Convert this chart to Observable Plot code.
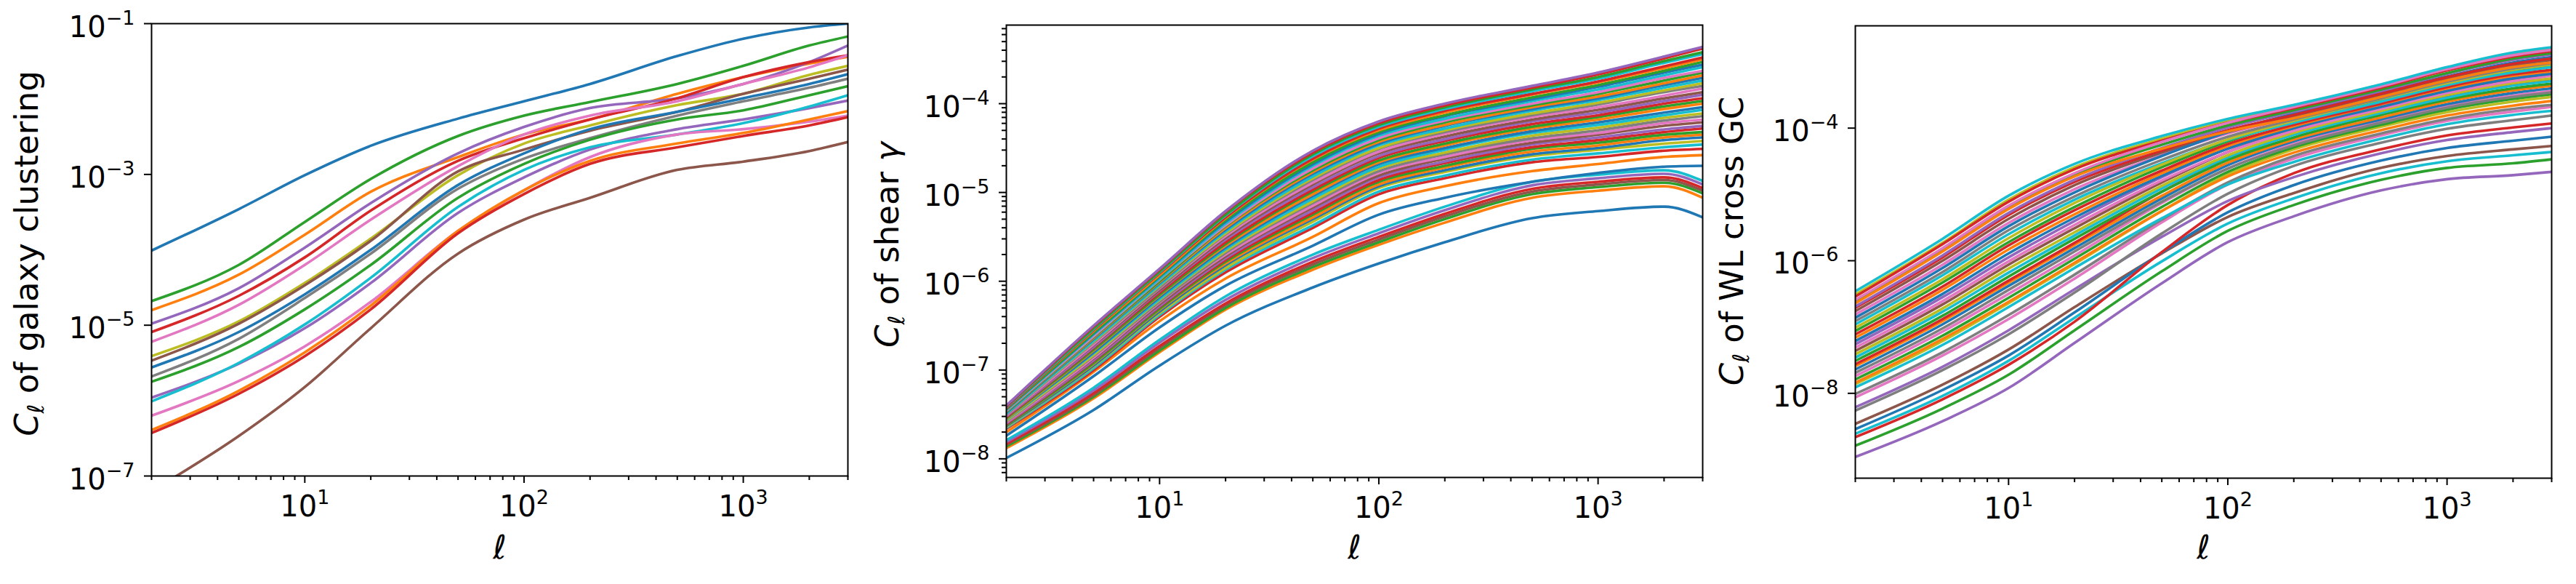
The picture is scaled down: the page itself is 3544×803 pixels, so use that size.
<!DOCTYPE html>
<html><head><meta charset="utf-8">
<script src="https://cdn.jsdelivr.net/npm/d3@7"></script>
<script src="https://cdn.jsdelivr.net/npm/@observablehq/plot@0.6"></script>
<style>
html,body{margin:0;padding:0;background:#fff;}
#wrap{position:relative;width:3544px;height:803px;overflow:hidden;background:#fff;}
#wrap svg{position:absolute;top:0;}
</style></head><body><div id="wrap"></div>
<script>
// multipole sample points (same for every curve)
const ells = [2, 5, 10, 20, 50, 100, 200, 500, 1000, 2000, 3000];
const palette = {blue:"#1f77b4", orange:"#ff7f0e", green:"#2ca02c", red:"#d62728", purple:"#9467bd",
  brown:"#8c564b", pink:"#e377c2", gray:"#7f7f7f", olive:"#bcbd22", cyan:"#17becf"};

// ---------- Panel 1: galaxy clustering, log10(C_l) ----------
const gcColors = ["blue","green","orange","purple","red","pink","olive","brown","blue","gray","green","purple","cyan","pink","orange","red","brown"];
const gcLogCl = [
[-4.01,-3.46,-3.01,-2.62,-2.26,-2.03,-1.80,-1.43,-1.20,-1.05,-1.00],
[-4.68,-4.20,-3.63,-3.06,-2.49,-2.22,-2.04,-1.80,-1.56,-1.29,-1.17],
[-4.80,-4.33,-3.80,-3.23,-2.77,-2.47,-2.27,-1.93,-1.71,-1.53,-1.44],
[-4.98,-4.51,-3.97,-3.38,-2.72,-2.37,-2.12,-1.99,-1.80,-1.51,-1.29],
[-5.09,-4.61,-4.10,-3.48,-2.82,-2.52,-2.27,-1.99,-1.71,-1.51,-1.42],
[-5.22,-4.73,-4.20,-3.60,-2.89,-2.47,-2.22,-2.03,-1.80,-1.58,-1.42],
[-5.41,-4.95,-4.44,-3.85,-3.01,-2.59,-2.35,-2.08,-1.93,-1.68,-1.56],
[-5.47,-4.98,-4.47,-3.88,-2.96,-2.67,-2.42,-2.17,-1.93,-1.73,-1.61],
[-5.56,-5.09,-4.59,-4.00,-3.14,-2.72,-2.40,-2.17,-1.99,-1.80,-1.67],
[-5.68,-5.18,-4.64,-4.05,-3.19,-2.79,-2.52,-2.22,-2.03,-1.85,-1.73],
[-5.75,-5.29,-4.79,-4.20,-3.31,-2.86,-2.54,-2.27,-2.15,-1.95,-1.83],
[-5.96,-5.51,-5.04,-4.44,-3.51,-3.04,-2.67,-2.40,-2.27,-2.12,-2.02],
[-6.01,-5.50,-4.99,-4.37,-3.43,-2.94,-2.64,-2.47,-2.32,-2.10,-1.95],
[-6.20,-5.74,-5.28,-4.69,-3.75,-3.21,-2.77,-2.47,-2.40,-2.30,-2.22],
[-6.39,-5.87,-5.36,-4.74,-3.75,-3.21,-2.82,-2.59,-2.45,-2.27,-2.16],
[-6.43,-5.91,-5.41,-4.79,-3.78,-3.26,-2.86,-2.64,-2.49,-2.35,-2.24],
[-7.20,-6.47,-5.82,-5.04,-4.05,-3.60,-3.31,-2.94,-2.83,-2.69,-2.57]
];

// ---------- Panel 2: shear, log10(C_l) ----------
const shearColors = [
 "blue",
 "orange","green","brown","red","purple","cyan",
 "blue","orange",
 "red","cyan","olive","blue","orange","green","red","purple","brown","pink","gray","olive","cyan","blue","orange","green",
 "red","purple","brown","pink","gray","olive","cyan","blue","orange","green","pink","cyan","blue","green","orange","red","cyan","green","red","purple"
];
const shearLogCl = [
[-7.99,-7.45,-6.95,-6.50,-6.07,-5.80,-5.56,-5.29,-5.21,-5.16,-5.28],
[-7.88,-7.32,-6.80,-6.32,-5.87,-5.59,-5.34,-5.06,-4.98,-4.93,-5.06],
[-7.86,-7.30,-6.78,-6.30,-5.84,-5.56,-5.30,-5.02,-4.94,-4.89,-5.01],
[-7.84,-7.28,-6.75,-6.27,-5.81,-5.53,-5.27,-4.99,-4.91,-4.86,-4.98],
[-7.83,-7.26,-6.73,-6.25,-5.78,-5.50,-5.24,-4.96,-4.88,-4.83,-4.95],
[-7.81,-7.23,-6.69,-6.21,-5.74,-5.46,-5.20,-4.92,-4.84,-4.79,-4.91],
[-7.79,-7.20,-6.66,-6.17,-5.70,-5.42,-5.16,-4.88,-4.80,-4.75,-4.87],
[-7.74,-7.07,-6.52,-6.05,-5.60,-5.25,-5.06,-4.88,-4.78,-4.71,-4.70],
[-7.70,-7.02,-6.45,-5.97,-5.50,-5.12,-4.93,-4.76,-4.68,-4.60,-4.58],
[-7.66,-7.00,-6.40,-5.90,-5.40,-5.02,-4.84,-4.66,-4.60,-4.53,-4.51],
[-7.65,-6.98,-6.38,-5.87,-5.37,-4.99,-4.81,-4.63,-4.56,-4.49,-4.46],
[-7.64,-6.96,-6.36,-5.85,-5.33,-4.95,-4.77,-4.59,-4.52,-4.45,-4.42],
[-7.63,-6.95,-6.34,-5.82,-5.30,-4.93,-4.75,-4.57,-4.50,-4.41,-4.38],
[-7.62,-6.93,-6.32,-5.80,-5.28,-4.91,-4.72,-4.54,-4.47,-4.38,-4.35],
[-7.62,-6.92,-6.31,-5.78,-5.25,-4.88,-4.70,-4.51,-4.44,-4.35,-4.32],
[-7.61,-6.90,-6.29,-5.76,-5.23,-4.86,-4.67,-4.49,-4.41,-4.32,-4.28],
[-7.60,-6.89,-6.28,-5.74,-5.20,-4.83,-4.65,-4.46,-4.38,-4.29,-4.25],
[-7.59,-6.87,-6.26,-5.72,-5.17,-4.81,-4.62,-4.44,-4.35,-4.25,-4.21],
[-7.59,-6.86,-6.24,-5.70,-5.15,-4.78,-4.60,-4.41,-4.33,-4.22,-4.18],
[-7.58,-6.84,-6.23,-5.68,-5.12,-4.76,-4.57,-4.39,-4.30,-4.19,-4.14],
[-7.57,-6.83,-6.21,-5.66,-5.10,-4.73,-4.55,-4.36,-4.27,-4.16,-4.11],
[-7.56,-6.81,-6.20,-5.64,-5.07,-4.71,-4.52,-4.33,-4.24,-4.13,-4.07],
[-7.55,-6.80,-6.18,-5.62,-5.04,-4.68,-4.50,-4.31,-4.21,-4.10,-4.04],
[-7.55,-6.78,-6.16,-5.60,-5.02,-4.66,-4.47,-4.28,-4.18,-4.06,-4.00],
[-7.54,-6.77,-6.15,-5.58,-4.99,-4.64,-4.45,-4.26,-4.15,-4.03,-3.97],
[-7.53,-6.75,-6.13,-5.56,-4.97,-4.61,-4.42,-4.23,-4.13,-4.00,-3.94],
[-7.52,-6.74,-6.11,-5.53,-4.94,-4.59,-4.40,-4.20,-4.10,-3.97,-3.90],
[-7.51,-6.72,-6.10,-5.51,-4.91,-4.56,-4.37,-4.18,-4.07,-3.94,-3.87],
[-7.51,-6.71,-6.08,-5.49,-4.89,-4.54,-4.34,-4.15,-4.04,-3.91,-3.83],
[-7.50,-6.69,-6.07,-5.47,-4.86,-4.51,-4.32,-4.13,-4.01,-3.87,-3.80],
[-7.49,-6.68,-6.05,-5.46,-4.84,-4.50,-4.30,-4.11,-3.99,-3.85,-3.77],
[-7.49,-6.67,-6.04,-5.44,-4.82,-4.47,-4.28,-4.08,-3.96,-3.82,-3.74],
[-7.48,-6.65,-6.02,-5.42,-4.79,-4.45,-4.25,-4.06,-3.94,-3.79,-3.71],
[-7.47,-6.64,-6.01,-5.40,-4.77,-4.43,-4.24,-4.04,-3.92,-3.77,-3.68],
[-7.47,-6.63,-6.00,-5.38,-4.75,-4.41,-4.21,-4.02,-3.89,-3.74,-3.65],
[-7.46,-6.62,-5.98,-5.37,-4.73,-4.39,-4.19,-4.00,-3.87,-3.71,-3.63],
[-7.45,-6.60,-5.97,-5.35,-4.70,-4.36,-4.17,-3.97,-3.84,-3.68,-3.59],
[-7.44,-6.59,-5.95,-5.33,-4.68,-4.34,-4.14,-3.95,-3.81,-3.65,-3.56],
[-7.44,-6.58,-5.94,-5.31,-4.66,-4.32,-4.13,-3.93,-3.79,-3.63,-3.53],
[-7.43,-6.56,-5.93,-5.29,-4.63,-4.30,-4.10,-3.90,-3.76,-3.60,-3.50],
[-7.43,-6.55,-5.91,-5.28,-4.62,-4.28,-4.08,-3.89,-3.75,-3.58,-3.48],
[-7.42,-6.54,-5.90,-5.26,-4.59,-4.26,-4.06,-3.86,-3.72,-3.54,-3.44],
[-7.41,-6.53,-5.89,-5.25,-4.57,-4.24,-4.04,-3.84,-3.70,-3.52,-3.42],
[-7.41,-6.51,-5.87,-5.22,-4.55,-4.22,-4.02,-3.82,-3.67,-3.49,-3.38],
[-7.40,-6.50,-5.86,-5.21,-4.53,-4.20,-4.00,-3.80,-3.65,-3.47,-3.36]
];

// ---------- Panel 3: WL x GC, log10(C_l) ----------
const crossColors = [
 "purple","green","cyan","brown","blue","red","purple","gray","pink","gray","olive","cyan","orange","green","pink",
 "gray","blue","orange","red","green","cyan","olive","brown","pink","purple","blue","orange","red","green","cyan",
 "olive","gray","pink","brown","blue","red","purple","green","orange","olive","red","pink","cyan"
];
const crossLogCl = [
[-8.96,-8.42,-7.92,-7.24,-6.34,-5.72,-5.33,-4.94,-4.77,-4.71,-4.66],
[-8.79,-8.23,-7.72,-7.05,-6.16,-5.55,-5.16,-4.78,-4.60,-4.53,-4.47],
[-8.61,-8.04,-7.51,-6.86,-6.01,-5.44,-5.06,-4.68,-4.50,-4.41,-4.36],
[-8.46,-7.87,-7.34,-6.70,-5.89,-5.34,-4.98,-4.60,-4.42,-4.32,-4.27],
[-8.54,-7.95,-7.43,-6.78,-5.88,-5.27,-4.86,-4.49,-4.30,-4.19,-4.13],
[-8.66,-8.09,-7.57,-6.92,-5.87,-5.16,-4.68,-4.32,-4.11,-3.99,-3.93],
[-8.21,-7.60,-7.05,-6.43,-5.64,-5.10,-4.74,-4.38,-4.18,-4.06,-4.00],
[-8.26,-7.65,-7.11,-6.48,-5.59,-4.99,-4.57,-4.22,-4.01,-3.88,-3.81],
[-8.06,-7.43,-6.88,-6.27,-5.42,-4.85,-4.46,-4.11,-3.89,-3.75,-3.68],
[-8.01,-7.38,-6.82,-6.21,-5.38,-4.82,-4.42,-4.08,-3.86,-3.71,-3.65],
[-7.86,-7.21,-6.64,-6.05,-5.25,-4.70,-4.32,-3.98,-3.76,-3.60,-3.53],
[-7.91,-7.27,-6.70,-6.11,-5.36,-4.85,-4.51,-4.16,-3.94,-3.80,-3.74],
[-7.84,-7.18,-6.62,-6.03,-5.25,-4.73,-4.37,-4.03,-3.81,-3.66,-3.59],
[-7.79,-7.13,-6.56,-5.97,-5.19,-4.66,-4.29,-3.95,-3.72,-3.56,-3.49],
[-7.74,-7.07,-6.50,-5.92,-5.13,-4.61,-4.24,-3.90,-3.67,-3.51,-3.44],
[-7.69,-7.02,-6.44,-5.86,-5.11,-4.61,-4.26,-3.92,-3.69,-3.53,-3.46],
[-7.64,-6.96,-6.38,-5.81,-5.06,-4.56,-4.20,-3.87,-3.64,-3.47,-3.40],
[-7.59,-6.91,-6.33,-5.76,-5.02,-4.52,-4.17,-3.84,-3.60,-3.43,-3.36],
[-7.56,-6.88,-6.30,-5.73,-4.96,-4.46,-4.09,-3.76,-3.52,-3.34,-3.27],
[-7.51,-6.83,-6.24,-5.67,-4.96,-4.48,-4.14,-3.80,-3.57,-3.40,-3.33],
[-7.46,-6.77,-6.18,-5.62,-4.91,-4.44,-4.10,-3.77,-3.54,-3.36,-3.29],
[-7.41,-6.72,-6.12,-5.57,-4.87,-4.41,-4.07,-3.74,-3.50,-3.32,-3.25],
[-7.36,-6.66,-6.06,-5.51,-4.82,-4.36,-4.02,-3.69,-3.45,-3.27,-3.19],
[-7.31,-6.61,-6.01,-5.46,-4.79,-4.36,-4.04,-3.71,-3.47,-3.29,-3.21],
[-7.26,-6.55,-5.95,-5.40,-4.74,-4.31,-3.99,-3.66,-3.42,-3.23,-3.16],
[-7.21,-6.50,-5.89,-5.35,-4.72,-4.31,-4.00,-3.68,-3.44,-3.25,-3.18],
[-7.16,-6.44,-5.83,-5.30,-4.68,-4.27,-3.97,-3.64,-3.40,-3.21,-3.14],
[-7.11,-6.39,-5.77,-5.24,-4.64,-4.24,-3.95,-3.63,-3.38,-3.19,-3.12],
[-7.06,-6.33,-5.72,-5.19,-4.59,-4.20,-3.90,-3.58,-3.33,-3.14,-3.06],
[-6.96,-6.22,-5.60,-5.08,-4.53,-4.18,-3.92,-3.60,-3.35,-3.16,-3.08],
[-7.01,-6.28,-5.66,-5.13,-4.55,-4.17,-3.89,-3.56,-3.32,-3.12,-3.04],
[-6.91,-6.17,-5.54,-5.03,-4.48,-4.13,-3.87,-3.55,-3.30,-3.10,-3.02],
[-6.81,-6.06,-5.43,-4.92,-4.41,-4.08,-3.84,-3.52,-3.27,-3.06,-2.99],
[-6.76,-6.00,-5.37,-4.86,-4.37,-4.06,-3.82,-3.50,-3.25,-3.05,-2.97],
[-6.86,-6.11,-5.48,-4.97,-4.42,-4.06,-3.78,-3.47,-3.22,-3.01,-2.93],
[-6.71,-5.95,-5.31,-4.81,-4.34,-4.03,-3.80,-3.48,-3.23,-3.03,-2.95],
[-6.69,-5.92,-5.28,-4.78,-4.30,-3.99,-3.75,-3.44,-3.18,-2.97,-2.89],
[-6.61,-5.84,-5.19,-4.70,-4.25,-3.96,-3.73,-3.42,-3.17,-2.95,-2.87],
[-6.64,-5.86,-5.22,-4.73,-4.31,-4.05,-3.85,-3.53,-3.28,-3.08,-3.01],
[-6.51,-5.73,-5.08,-4.59,-4.16,-3.89,-3.67,-3.36,-3.10,-2.88,-2.80],
[-6.54,-5.75,-5.11,-4.62,-4.19,-3.92,-3.70,-3.39,-3.13,-2.92,-2.84],
[-6.59,-5.81,-5.17,-4.68,-4.21,-3.92,-3.68,-3.37,-3.11,-2.90,-2.82],
[-6.46,-5.67,-5.02,-4.54,-4.12,-3.86,-3.65,-3.34,-3.08,-2.86,-2.78]
];

// ---------- axes / tick configuration ----------
const xMajor = [10, 100, 1000];
const xMinor = [2,3,4,5,6,7,8,9,20,30,40,50,60,70,80,90,200,300,400,500,600,700,800,900,2000,3000];
const yTicks1 = [1e-7, 1e-5, 1e-3, 1e-1];
const yTicks2 = [1e-8, 1e-7, 1e-6, 1e-5, 1e-4];
const yTicks3 = [1e-8, 1e-6, 1e-4];
const yMinor2 = [];
for (let e = -9; e <= -4; e++) for (let m = 2; m <= 9; m++) {
  const v = m * Math.pow(10, e);
  if (v > Math.pow(10, -8.21) && v < Math.pow(10, -3.115)) yMinor2.push(v);
}

const fmtPow = d => "10^" + Math.round(Math.log10(d));

function makePanel(o) {
  const marks = [];
  o.logCl.forEach((vals, k) => {
    const rows = ells.map((l, i) => ({l, c: Math.pow(10, vals[i])}));
    marks.push(Plot.line(rows, {x: "l", y: "c", stroke: palette[o.colors[k]], strokeWidth: 3.6,
      curve: "monotone-x", clip: true}));
  });
  marks.push(Plot.axisX(xMinor, {anchor: "bottom", tickSize: 6, strokeWidth: 2, tickFormat: () => "", label: null}));
  marks.push(Plot.axisX(xMajor, {anchor: "bottom", tickSize: 10, tickPadding: 17, strokeWidth: 2, fontSize: 40, tickFormat: fmtPow, label: null}));
  if (o.yMinor) marks.push(Plot.axisY(o.yMinor, {anchor: "left", tickSize: 6, strokeWidth: 2, tickFormat: () => "", label: null}));
  marks.push(Plot.axisY(o.yTicks, {anchor: "left", tickSize: 10, tickPadding: 13, strokeWidth: 2, fontSize: 40, tickFormat: fmtPow, label: null}));
  marks.push(Plot.frame({stroke: "black", strokeWidth: 2}));
  marks.push(Plot.text([0], {frameAnchor: "bottom", text: () => "ℓ", fontSize: 45, fontStyle: "italic",
    lineAnchor: "middle", dy: o.xlabDy}));
  marks.push(Plot.text([0], {frameAnchor: "left", text: () => o.ylabel, fontSize: 45, rotate: -90,
    lineAnchor: "middle", textAnchor: "middle", dx: o.ylabDx, dy: o.ylabDy}));
  const svg = Plot.plot({
    width: o.width, height: 803,
    marginLeft: o.mL, marginRight: o.mR, marginTop: o.mT, marginBottom: o.mB,
    x: {type: "log", domain: [2, 3000], axis: null},
    y: {type: "log", domain: o.yDomain, axis: null},
    style: {fontFamily: "DejaVu Sans", fontSize: "40px", color: "black", background: "transparent", overflow: "visible"},
    marks
  });
  svg.style.left = o.left + "px";
  const ns = "http://www.w3.org/2000/svg";
  svg.querySelectorAll("text").forEach(t => {
    const s = t.textContent;
    const m = s.match(/^10\^(-?\d+)$/);
    if (m) {
      const g = t.closest("g[aria-label]");
      const isY = g && /y-axis/.test(g.getAttribute("aria-label"));
      t.textContent = "10";
      const ts = document.createElementNS(ns, "tspan");
      ts.setAttribute("font-size", "27");
      ts.setAttribute("dy", "-17");
      ts.textContent = m[1].replace("-", "\u2212");
      t.appendChild(ts);
      if (isY) t.setAttribute("y", "18");
      return;
    }
    if (s.startsWith("C_ℓ")) {
      const rest = s.slice(3);
      t.textContent = "";
      const a = document.createElementNS(ns, "tspan");
      a.setAttribute("font-style", "italic"); a.textContent = "C"; t.appendChild(a);
      const b = document.createElementNS(ns, "tspan");
      b.setAttribute("font-style", "italic"); b.setAttribute("font-size", "31");
      b.setAttribute("dy", "8"); b.textContent = "ℓ"; t.appendChild(b);
      const gam = rest.endsWith("γ");
      const c = document.createElementNS(ns, "tspan");
      c.setAttribute("dy", "-8"); c.textContent = gam ? rest.slice(0, -1) : rest; t.appendChild(c);
      if (gam) {
        const d = document.createElementNS(ns, "tspan");
        d.setAttribute("font-style", "italic"); d.textContent = "γ"; t.appendChild(d);
      }
    }
  });
  document.getElementById("wrap").appendChild(svg);
}

makePanel({logCl: gcLogCl, colors: gcColors, yDomain: [1e-7, 1e-1], yTicks: yTicks1,
  ylabel: "C_ℓ of galaxy clustering", left: 0, width: 1180, mL: 208, mR: 14, mT: 32, mB: 149,
  xlabDy: 99, ylabDx: -171, ylabDy: 5});
makePanel({logCl: shearLogCl, colors: shearColors, yDomain: [Math.pow(10, -8.21), Math.pow(10, -3.115)],
  yTicks: yTicks2, yMinor: yMinor2,
  ylabel: "C_ℓ of shear γ", left: 1180, width: 1180, mL: 204, mR: 18, mT: 34, mB: 147,
  xlabDy: 97, ylabDx: -163, ylabDy: -9});
makePanel({logCl: crossLogCl, colors: crossColors, yDomain: [Math.pow(10, -9.28), Math.pow(10, -2.457)],
  yTicks: yTicks3,
  ylabel: "C_ℓ of WL cross GC", left: 2360, width: 1184, mL: 192, mR: 34, mT: 35, mB: 146,
  xlabDy: 96, ylabDx: -169, ylabDy: -15});
</script></body></html>
